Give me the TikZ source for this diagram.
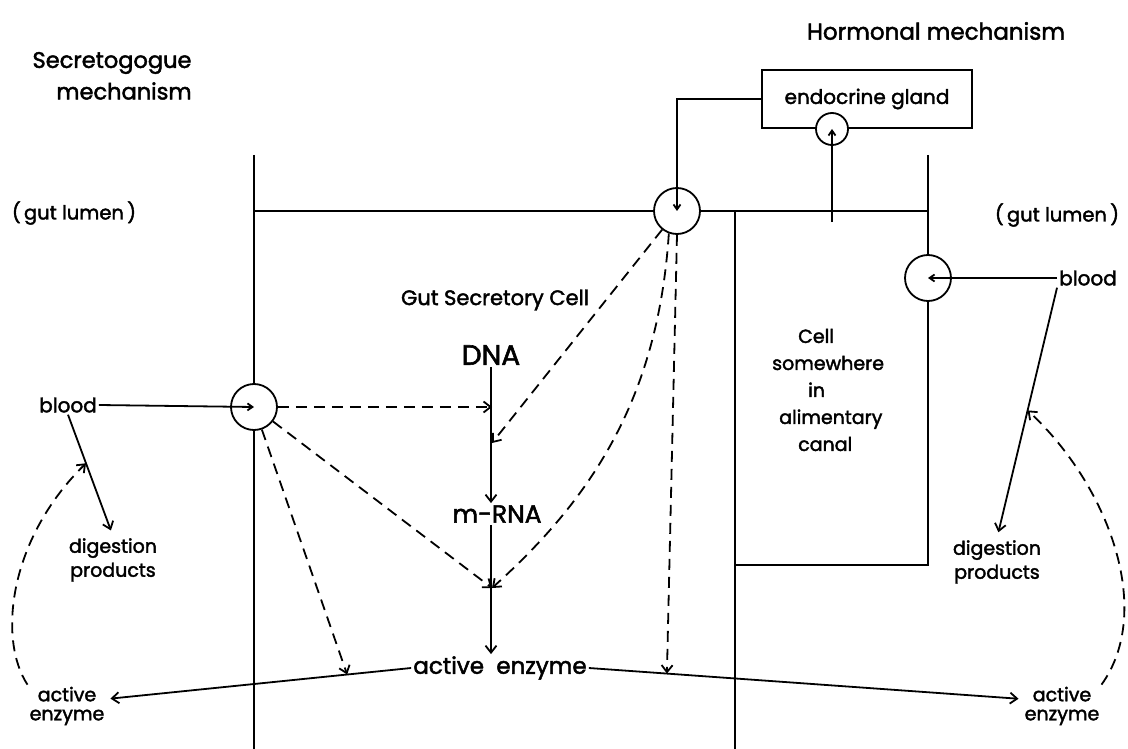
\documentclass[tikz,border=0pt]{standalone}
\usepackage{fontspec}
\setmainfont{Poppins}[UprightFeatures={FakeBold=2}]
\usetikzlibrary{arrows.meta}
\begin{document}
\begin{tikzpicture}[x=1pt,y=-1pt,
  wall/.style={line width=1.8pt},
  conn/.style={line width=1.8pt,-{Straight Barb[length=7pt,width=11pt]}},
  dsh/.style={conn,dash pattern=on 11pt off 7pt},
  tiny/.style={line width=1.8pt,-{Straight Barb[length=5pt,width=7pt]}},
  pore/.style={circle,draw,line width=1.8pt,fill=white,minimum size=46pt,inner sep=0pt},
  txt/.style={inner sep=2pt,align=center,font=\fontsize{18}{22}\selectfont},
  side/.style={txt,font=\fontsize{19}{19}\selectfont}]
\useasboundingbox (0,0) rectangle (1128,749);

% headings
\node[txt,font=\fontsize{22.5}{24}\selectfont] (sec1) at (112,63) {Secretogogue};
\node[txt,font=\fontsize{22.5}{24}\selectfont] (sec2) at (124,91) {mechanism};
\node[txt,font=\fontsize{23}{26}\selectfont] (horm) at (936,31) {Hormonal mechanism};
\node[txt,font=\fontsize{19.5}{22}\selectfont] (gutL) at (74,213) {(\,gut lumen\,)};
\node[txt,font=\fontsize{19.5}{22}\selectfont] (gutR) at (1057,215) {(\,gut lumen\,)};

% walls
\node[pore] (L) at (254,407) {};
\node[pore] (T) at (677,211) {};
\node[pore] (R) at (928,278) {};
\draw[wall] (254,155) -- (L.north);
\draw[wall] (L.south) -- (254,749);
\draw[wall] (254,211) -- (T.west);
\draw[wall] (T.east) -- (928,211);
\draw[wall] (928,155) -- (R.north);
\draw[wall] (R.south) -- (928,565) -- (735,565);
\draw[wall] (735,211) -- (735,749);

% endocrine gland
\node[draw,line width=1.8pt,minimum width=210pt,minimum height=58pt,txt,font=\fontsize{20}{22}\selectfont] (endo) at (867,99) {endocrine gland};
\node[pore,minimum size=32pt] (E) at (832,129) {};
\coordinate (eS) at (832,222);
\draw[tiny] (eS) -- (E.center);
\draw[tiny] (endo.west) -| (T.center);

% cell texts
\node[txt,font=\fontsize{21}{24}\selectfont] (gsc) at (495,300) {Gut Secretory Cell};
\node[txt,font=\fontsize{28}{30}\selectfont] (dna) at (491,355) {DNA};
\node[txt,font=\fontsize{25}{28}\selectfont] (mrna) at (497,514) {m-RNA};
\node[txt,font=\fontsize{23}{26}\selectfont] (act) at (500,668) {active~ enzyme};
\node[txt,anchor=west,align=left,font=\fontsize{19}{27}\selectfont] (cell) at (770,390)
  {\hspace*{26pt}Cell\\somewhere\\\hspace*{36pt}in\\\hspace*{7pt}alimentary\\\hspace*{26pt}canal};

% side texts
\node[txt,font=\fontsize{20}{22}\selectfont] (bloodL) at (68,405) {blood};
\node[txt,font=\fontsize{20}{22}\selectfont] (bloodR) at (1088,278) {blood};
\node[txt,font=\fontsize{19}{24}\selectfont] (digL) at (113,560) {digestion\\products};
\node[txt,font=\fontsize{19}{24}\selectfont] (digR) at (997,562) {digestion\\products};
\node[side] (actL) at (67,706) {active\\enzyme};
\node[side] (actR) at (1062,706) {active\\enzyme};

% blood inputs
\draw[tiny] (bloodL.east) -- (L.center);
\draw[tiny] (bloodR.west) -- (R.center);
\draw[conn,shorten >=6pt] (bloodL.south) -- (digL.north) coordinate[pos=0.4] (mL);
\draw[conn,shorten >=6pt] (bloodR.south west) -- (digR.north) coordinate[pos=0.49] (mR);

% main chain
\coordinate (j1) at (492,407);
\coordinate (j2) at (492,443);
\coordinate (j3) at (492,588);
\draw[conn] (dna.south) -- (dna.south |- mrna.north);
\draw[conn] (mrna.south -| dna.south) -- (dna.south |- act.north);

% enzyme out
\draw[conn,shorten >=4pt] (act.west) -- (actL.10) coordinate[pos=0.21] (b1);
\draw[conn,shorten >=4pt] (act.east) -- (actR.170) coordinate[pos=0.18] (b2);

% dashed influences
\draw[dsh] (L.east) -- (j1);
\draw[dsh] (L) -- (j3);
\draw[dsh] (L) -- (b1);
\draw[dsh] (T) -- (j2);
\draw[dsh] (T.250) .. controls (658,400) and (590,500) .. (j3);
\draw[dsh] (T.south) -- (b2);

% feedback loops
\draw[dsh] (actL.north west) .. controls (-2,640) and (8,540) .. (mL);
\draw[dsh] (actR.north east) .. controls (1155,610) and (1108,485) .. (mR);
\end{tikzpicture}
\end{document}
